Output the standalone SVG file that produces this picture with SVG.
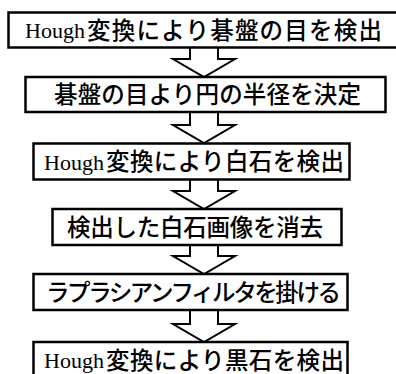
<svg xmlns="http://www.w3.org/2000/svg" width="396" height="374" viewBox="0 0 396 374">
<style>
.box{fill:#fff;stroke:#000;stroke-width:2.5}
.arr{fill:#fff;stroke:#000;stroke-width:2;stroke-linejoin:miter}
.en{font-family:"Liberation Serif","Times New Roman",serif;font-size:22px;fill:#000}
.jp{font-family:"Noto Sans CJK JP","Noto Sans CJK SC",sans-serif;font-size:23.5px;font-weight:500;fill:#000}
</style>
<rect width="396" height="374" fill="#fff"/>
<g id="connectors">
<path class="arr" d="M190,47.5 V59 H173 L204,77 L235,59 H218 V47.5"/>
<path class="arr" d="M190,112 V125 H173 L204,143 L235,125 H218 V112"/>
<path class="arr" d="M190,180 V191 H173 L204,209 L235,191 H218 V180"/>
<path class="arr" d="M190,245 V256 H173 L204,274 L235,256 H218 V245"/>
<path class="arr" d="M190,310 V324 H173 L204,342 L235,324 H218 V310"/>
</g>
<g id="n1">
<rect class="box" x="8.5" y="12.5" width="400" height="35"/>
<text class="en" x="25" y="38">Hough</text>
<text class="jp" x="87" y="38.5" textLength="295" lengthAdjust="spacing">変換により碁盤の目を検出</text>
</g>
<g id="n2">
<rect class="box" x="25.5" y="77" width="360" height="35"/>
<text class="jp" x="54" y="102.5" textLength="307" lengthAdjust="spacing">碁盤の目より円の半径を決定</text>
</g>
<g id="n3">
<rect class="box" x="33.5" y="143.5" width="316" height="36"/>
<text class="en" x="44" y="169.5">Hough</text>
<text class="jp" x="106" y="170" textLength="238" lengthAdjust="spacing">変換により白石を検出</text>
</g>
<g id="n4">
<rect class="box" x="52.5" y="209" width="289" height="36"/>
<text class="jp" x="67" y="235.5" font-size="23" textLength="256" lengthAdjust="spacing">検出した白石画像を消去</text>
</g>
<g id="n5">
<rect class="box" x="33.5" y="274" width="314" height="36"/>
<text class="jp" x="46" y="300.5" font-size="21.5" textLength="295" lengthAdjust="spacing">ラプラシアンフィルタを掛ける</text>
</g>
<g id="n6">
<rect class="box" x="33.5" y="342" width="314" height="45"/>
<text class="en" x="44" y="368">Hough</text>
<text class="jp" x="106" y="368.5" textLength="238" lengthAdjust="spacing">変換により黒石を検出</text>
</g>
</svg>
